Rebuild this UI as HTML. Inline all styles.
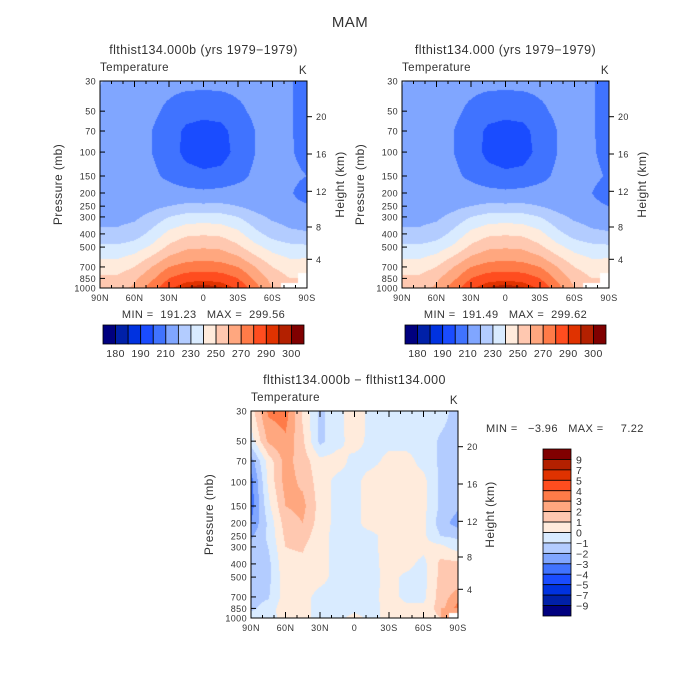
<!DOCTYPE html>
<html><head><meta charset="utf-8"><style>
html,body{margin:0;padding:0;background:#fff;}
#root{position:relative;width:700px;height:700px;overflow:hidden;font-family:"Liberation Sans",sans-serif;}
canvas{position:absolute;}
svg{position:absolute;left:0;top:0;}
svg text{white-space:pre;}
</style></head><body>
<div id="root">
<canvas id="cA" width="207" height="207" style="left:100px;top:81px"></canvas>
<canvas id="cB" width="207" height="207" style="left:402px;top:81px"></canvas>
<canvas id="cD" width="207" height="207" style="left:251px;top:411px"></canvas>
<svg id="svg" width="700" height="700" xmlns="http://www.w3.org/2000/svg"></svg>
</div>
<script>
const lats=[90,75,60,45,30,15,0,-15,-30,-45,-60,-75,-90];
const levels=[30,50,70,100,150,200,250,300,400,500,700,850,1000];
const tempA=[
[221,215,214,213,213,213,213,213,213,213,212,211,205],
[214,214,213,212,208,204,203,204,208,212,212,211,205],
[213,213,212,210,205,198,196,197,204,210,212,211,206],
[213,213,212,210,205,197,195,196,203,210,212,211,207],
[213,213,213,212,208,204,202,203,207,212,213,212,210],
[213,213,214,214,214,213,212,213,214,213,212,211,206],
[214,214,215,217,220,222,222,222,220,216,213,212,211],
[217,217,218,223,230,234,235,234,230,223,218,216,215],
[222,222,225,233,243,248,249,248,243,233,226,222,221],
[232,232,235,242,252,258,259,258,252,243,236,233,232],
[245,245,250,260,270,274,275,274,270,260,250,245,246],
[252,252,258,268,280,286,287,286,280,268,256,250,null],
[256,256,262,275,288,296,299,296,288,274,260,null,null]];
const tempB=[
[221,215,214,213,213,213,213,213,213,213,212,211,205],
[214,214,213,212,208,204,203,204,208,212,212,211,205],
[213,213,212,210,205,198,196,197,204,210,212,211,206],
[213,213,212,210,205,197,195,196,203,210,212,211,207],
[213,213,213,212,208,204,202,203,207,212,213,212,209],
[213,213,214,214,214,213,212,213,214,213,212,210,206],
[214,214,215,217,220,222,222,222,220,216,213,212,210],
[217,217,218,223,230,234,235,234,230,223,218,216,215],
[222,222,225,233,243,248,249,248,243,233,226,222,221],
[232,232,235,242,252,258,259,258,252,243,236,233,232],
[245,245,250,260,270,274,275,274,270,260,250,245,246],
[252,252,258,268,280,286,287,286,280,268,256,250,null],
[256,256,262,275,288,296,299,296,288,274,260,null,null]];
const diff=[
[0.5,3.2,3.5,0.8,-1.3,-0.3,0.5,-0.3,-0.3,-0.3,-0.3,-0.5,-1.5],
[-0.5,2.2,2.8,1.2,-1.3,-0.3,0.4,-0.3,-0.3,-0.3,-0.3,-1.2,-1.5],
[-2.5,0.4,2.4,1.5,0.3,0.4,-0.3,-0.3,0.3,0.3,-0.3,-1.2,-2.0],
[-3.5,0.2,2.4,1.8,0.5,-0.3,-0.3,0.5,0.5,0.4,0.3,-1.2,-1.5],
[-3.5,-0.3,2.0,2.3,0.6,-0.3,-0.3,0.5,0.5,0.3,0.3,-1.2,-1.8],
[-3.0,-0.8,1.5,2.0,0.5,-0.3,-0.3,0.5,0.5,0.3,0.2,-1.5,-2.5],
[-2.2,-0.8,1.2,1.5,0.3,-0.3,-0.3,-0.3,0.5,0.4,0.2,-1.0,-1.2],
[-1.6,-1.0,1.0,1.1,0.3,-0.3,-0.3,-0.3,0.5,0.5,0.3,0.3,-0.5],
[-1.5,-1.3,0.8,0.8,0.3,-0.3,-0.3,-0.3,0.4,0.3,-0.3,1.3,1.3],
[-1.5,-1.3,0.6,0.5,0.3,-0.3,-0.3,-0.3,0.3,-0.2,-0.3,1.3,1.3],
[-1.3,-1.1,0.5,0.3,-0.3,-0.3,-0.3,-0.2,0.3,-0.2,-0.3,1.5,2.5],
[-1.2,-0.6,0.7,0.3,-0.3,-0.3,-0.3,-0.3,0.3,0.2,0.3,1.5,3.5],
[-0.5,-0.3,0.3,0.3,-0.3,-0.3,0.3,-0.3,0.3,0.3,0.3,1.0,null]];
const tempBounds=[180,185,190,200,210,220,230,240,250,260,270,280,290,295,300];
const tempLabels=["180","190","210","230","250","270","290","300"];
const diffBounds=[-9,-7,-5,-4,-3,-2,-1,0,1,2,3,4,5,7,9];
const diffLabels=["9","7","5","4","3","2","1","0","\u22121","\u22122","\u22123","\u22124","\u22125","\u22127","\u22129"];
const palette=["#00007f","#0020a8","#0032e0","#1a4cff","#4073ff","#80a6ff","#b3ccff","#d9ebff","#ffebdc","#ffc8b0","#ffa77f","#ff7b48","#ff4d1f","#e03200","#b32000","#800000"];
const pTicks=[30,50,70,100,150,200,250,300,400,500,700,850,1000];
const latTicks=[90,60,30,0,-30,-60,-90];
const latTickLabels=["90N","60N","30N","0","30S","60S","90S"];
const kmTicks=[4,8,12,16,20];
const kmOffsets=[28.7,61,96.7,134,171.3];

const S=207, LNR=Math.log(1000/30);
const lnL=levels.map(p=>Math.log(p/30));
function colorFor(v,b){let i=0;while(i<b.length&&v>=b[i])i++;return palette[i];}
function sample(g,lat,l){
  let fx=(90-lat)/15; let i=Math.min(11,Math.floor(fx)); let tx=fx-i;
  let j=0; while(j<11&&l>lnL[j+1])j++; let ty=(l-lnL[j])/(lnL[j+1]-lnL[j]);
  const a=g[j][i],b=g[j][i+1],c=g[j+1][i],d=g[j+1][i+1];
  if(a===null||b===null||c===null||d===null){
    const near=g[ty<0.5?j:j+1][tx<0.5?i:i+1]; if(near===null) return null;
    const vals=[a,b,c,d].filter(v=>v!==null); return vals.reduce((s,v)=>s+v,0)/vals.length;}
  return (a*(1-tx)+b*tx)*(1-ty)+(c*(1-tx)+d*tx)*ty;
}
function field(id,g,b){
  const ctx=document.getElementById(id).getContext('2d');
  for(let y=0;y<S;y++){const l=(y+0.5)/S*LNR;
    for(let x=0;x<S;x++){const lat=90-(x+0.5)/S*180;const v=sample(g,lat,l);
      ctx.fillStyle=v===null?"#ffffff":colorFor(v,b);ctx.fillRect(x,y,1,1);}}
}
field('cA',tempA,tempBounds);field('cB',tempB,tempBounds);field('cD',diff,diffBounds);

const svg=document.getElementById('svg');const NS="http://www.w3.org/2000/svg";
function el(t,a,txt){const e=document.createElementNS(NS,t);for(const k in a)e.setAttribute(k,a[k]);if(txt!==undefined)e.textContent=txt;svg.appendChild(e);return e;}
function txt(x,y,s,size,anchor,name,rot){const a={x:x,y:y,'font-size':size,'text-anchor':anchor||'middle',fill:'#333','font-family':'Liberation Sans, sans-serif','letter-spacing':'0.4'};if(rot)a.transform=`rotate(-90 ${x} ${y})`;const e=el('text',a,s);

return e;}
function line(x1,y1,x2,y2,name){const e=el('line',{x1:x1,y1:y1,x2:x2,y2:y2,stroke:'#000','stroke-width':1});

}

function panel(L,T,title,subtitle,prefix,ytitleX,htitleX){
  const xOf=lat=>L+S*(90-lat)/180, yOf=p=>T+S*Math.log(p/30)/LNR;
  const r=el('rect',{x:L,y:T,width:S,height:S,fill:'none',stroke:'#000','stroke-width':1});
  
  
  txt(L+S/2,T-27,title,12.5,'middle',prefix+'-title');
  txt(L,T-10,'Temperature',11.5,'start',prefix+'-variable-label');
  txt(L+S,T-7,'K',11.5,'end',prefix+'-units-label');
  pTicks.forEach(p=>{const y=yOf(p);line(L,y,L+5,y,prefix+'-y-tick');txt(L-4,y+3.5,String(p),9,'end',prefix+'-y-tick-label');});
  for(let lat=90;lat>=-90;lat-=10){const x=xOf(lat);const maj=lat%30===0;line(x,T+S,x,T+S-(maj?6:3),prefix+'-x-tick');line(x,T,x,T+(maj?6:3),prefix+'-x-tick-top');}
  latTicks.forEach((lat,i)=>txt(xOf(lat),T+S+13,latTickLabels[i],9,'middle',prefix+'-x-tick-label'));
  kmTicks.forEach((k,i)=>{const y=T+S-kmOffsets[i];line(L+S,y,L+S+5,y,prefix+'-height-tick');txt(L+S+9,y+3.5,String(k),9,'start',prefix+'-height-tick-label');});
  txt(ytitleX,T+S/2,'Pressure (mb)',12,'middle',prefix+'-y-axis-title',true);
  txt(htitleX,T+S/2,'Height (km)',12,'middle',prefix+'-height-axis-title',true);
  if(subtitle)txt(L+S/2,T+S+30,subtitle,11,'middle',prefix+'-min-max');
}
txt(350,27,'MAM',15,'middle','figure-title');
panel(100,81,'flthist134.000b (yrs 1979\u22121979)','MIN =  191.23   MAX =  299.56','left',62,344);
panel(402,81,'flthist134.000 (yrs 1979\u22121979)','MIN =  191.49   MAX =  299.62','right',364,646);
panel(251,411,'flthist134.000b \u2212 flthist134.000',null,'diff',213,494);
txt(486,432,'MIN =   \u22123.96   MAX =     7.22',11,'start','diff-min-max');

function hbar(L,prefix){const T=325,H=19,W=201/16;
  palette.forEach((c,i)=>{const r=el('rect',{x:L+i*W,y:T,width:W,height:H,fill:c,stroke:'#000','stroke-width':0.8});
  
  });
  tempLabels.forEach((s,i)=>{const b=i<7?1+2*i:15;txt(L+b*W,T+H+13,s,10.5,'middle',prefix+'-colorbar-label');});
}
hbar(103,'left');hbar(405,'right');
(function(){const L=543,T=449,W=28,H=167/16;
  palette.slice().reverse().forEach((c,i)=>{const r=el('rect',{x:L,y:T+i*H,width:W,height:H,fill:c,stroke:'#000','stroke-width':0.8});
  
  });
  diffLabels.forEach((s,i)=>txt(L+W+5,T+(i+1)*H+4,s,10.5,'start','diff-colorbar-label'));
})();
</script>
</body></html>
